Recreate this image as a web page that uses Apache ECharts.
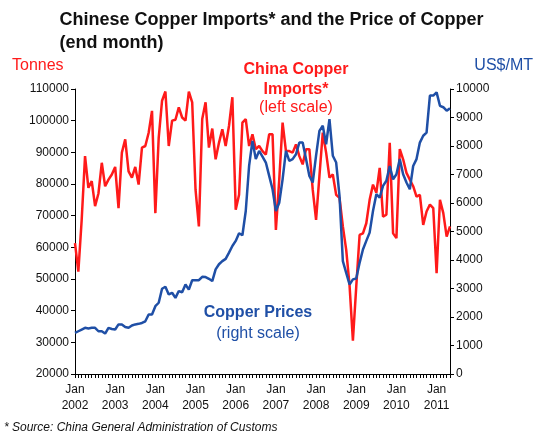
<!DOCTYPE html>
<html>
<head>
<meta charset="utf-8">
<script src="https://cdn.jsdelivr.net/npm/echarts@6/dist/echarts.min.js"></script>
<style>
  html, body { margin: 0; padding: 0; background: #fff; }
  #chart { width: 543px; height: 439px; }
</style>
</head>
<body>
<div id="chart"></div>
<script>
// months Jan 2002 .. May 2011
const months = [];
for (let y = 2002; y <= 2011; y++) {
    for (let m = 1; m <= 12; m++) {
        if (y === 2011 && m > 5) break;
        months.push(y + '-' + (m < 10 ? '0' + m : m));
    }
}

// China copper imports, thousand tonnes (left scale)
const imports = [
    61.3, 52.3, 68.7, 88.8, 78.8, 80.9, 73.0, 77.0, 86.7, 79.3, 81.4, 83.0,
    85.4, 72.4, 89.9, 94.1, 84.0, 82.0, 85.4, 79.8, 91.5, 92.0, 96.2, 103.1,
    70.8, 94.6, 106.3, 109.2, 92.0, 100.0, 100.3, 104.2, 101.0, 100.0, 109.2, 105.8,
    78.2, 66.6, 100.5, 105.8, 91.5, 97.5, 87.8, 93.0, 97.3, 92.0, 98.4, 107.4,
    71.9, 76.6, 99.4, 100.5, 92.0, 95.7, 91.0, 92.0, 90.4, 89.3, 95.7, 95.7,
    65.5, 81.4, 99.4, 90.4, 90.4, 89.9, 92.5, 88.8, 86.2, 91.0, 91.0, 78.2,
    68.7, 82.5, 96.2, 89.9, 82.0, 83.0, 76.6, 75.6, 66.6, 59.2, 48.0, 30.5,
    47.6, 63.9, 64.4, 67.6, 75.0, 79.8, 77.2, 85.1, 69.7, 70.3, 93.0, 64.4,
    62.9, 91.0, 87.8, 83.5, 81.4, 79.3, 76.0, 76.6, 67.1, 71.3, 73.5, 72.4,
    51.8, 75.0, 70.8, 63.4, 66.6
];

// copper price, US$/MT (right scale)
const prices = [
    1440, 1500, 1560, 1620, 1600, 1620, 1620, 1500, 1500, 1420, 1620, 1580,
    1560, 1740, 1740, 1650, 1620, 1700, 1740, 1760, 1790, 1850, 2090, 2090,
    2380, 2500, 2990, 3060, 2790, 2850, 2670, 2910, 2870, 3140, 2960, 3290,
    3290, 3290, 3410, 3400, 3340, 3260, 3670, 3850, 3960, 4040, 4260, 4490,
    4670, 4940, 4870, 5720, 7300, 8180, 7540, 7830, 7630, 7420, 6950, 6480,
    5720, 6010, 6830, 7830, 7480, 7540, 7710, 8120, 8120, 7540, 6950, 6720,
    7660, 8530, 8710, 8060, 8940, 7660, 7420, 6250, 3960, 3550, 3140, 3320,
    3350, 3900, 4370, 4670, 4960, 5720, 6310, 6190, 6600, 6780, 7300, 6830,
    7010, 7540, 7010, 6720, 6480, 7300, 7540, 8120, 8360, 8470, 9770, 9770,
    9880, 9410, 9360, 9240, 9320
];

const RED = '#ff1a1a';
const BLUE = '#1f4fa6';
const FONT = 'Liberation Sans';

const chart = echarts.init(document.getElementById('chart'));
chart.setOption({
    animation: false,
    textStyle: { fontFamily: FONT },
    title: {
        text: 'Chinese Copper Imports* and the Price of Copper\n(end month)',
        left: 'center', top: 4,
        textStyle: { fontSize: 18, fontWeight: 'bold', color: '#111', lineHeight: 23, fontFamily: FONT },
        textAlign: 'left'
    },
    graphic: [
        { type: 'text', x: 12, y: 58, style: { text: 'Tonnes', fill: RED, font: '16px ' + FONT } },
        { type: 'text', x: 533, y: 58, style: { text: 'US$/MT', fill: BLUE, textAlign: 'right', font: '16px ' + FONT } },
        { type: 'text', x: 296, y: 60, style: { text: 'China Copper\nImports*', fill: RED, textAlign: 'center', font: 'bold 16px ' + FONT, lineHeight: 20 } },
        { type: 'text', x: 296, y: 100, style: { text: '(left scale)', fill: RED, textAlign: 'center', font: '16px ' + FONT } },
        { type: 'text', x: 258, y: 305, style: { text: 'Copper Prices', fill: BLUE, textAlign: 'center', font: 'bold 16px ' + FONT } },
        { type: 'text', x: 258, y: 326, style: { text: '(right scale)', fill: BLUE, textAlign: 'center', font: '16px ' + FONT } },
        { type: 'text', x: 4, y: 422, style: { text: '* Source: China General Administration of Customs', fill: '#111', font: 'italic 12px ' + FONT } }
    ],
    grid: { left: 75, right: 93, top: 89, bottom: 65 },
    xAxis: {
        type: 'category',
        data: months,
        boundaryGap: false,
        axisLine: { lineStyle: { color: '#000' } },
        axisTick: { interval: 0, length: 4, lineStyle: { color: '#000' } },
        axisLabel: {
            interval: (i, v) => v.endsWith('-01'),
            formatter: v => 'Jan\n' + v.slice(0, 4),
            color: '#111', fontSize: 12, lineHeight: 16, margin: 8
        }
    },
    yAxis: [
        {
            type: 'value', min: 20000, max: 110000, interval: 10000,
            axisLine: { show: true, lineStyle: { color: '#000' } },
            axisTick: { show: true, length: 4, lineStyle: { color: '#000' } },
            axisLabel: { color: '#111', fontSize: 12, margin: 6, formatter: v => String(v) },
            splitLine: { show: false }
        },
        {
            type: 'value', min: 0, max: 10000, interval: 1000,
            axisLine: { show: true, lineStyle: { color: '#000' } },
            axisTick: { show: true, length: 4, lineStyle: { color: '#000' } },
            axisLabel: { color: '#111', fontSize: 12, margin: 6, formatter: v => String(v) },
            splitLine: { show: false }
        }
    ],
    series: [
        {
            name: 'China Copper Imports', type: 'line', yAxisIndex: 0,
            data: imports.map(v => v * 1000),
            showSymbol: false,
            lineStyle: { color: RED, width: 2.5 }
        },
        {
            name: 'Copper Prices', type: 'line', yAxisIndex: 1,
            data: prices,
            showSymbol: false,
            lineStyle: { color: BLUE, width: 2.5 }
        }
    ]
});
</script>
</body>
</html>
